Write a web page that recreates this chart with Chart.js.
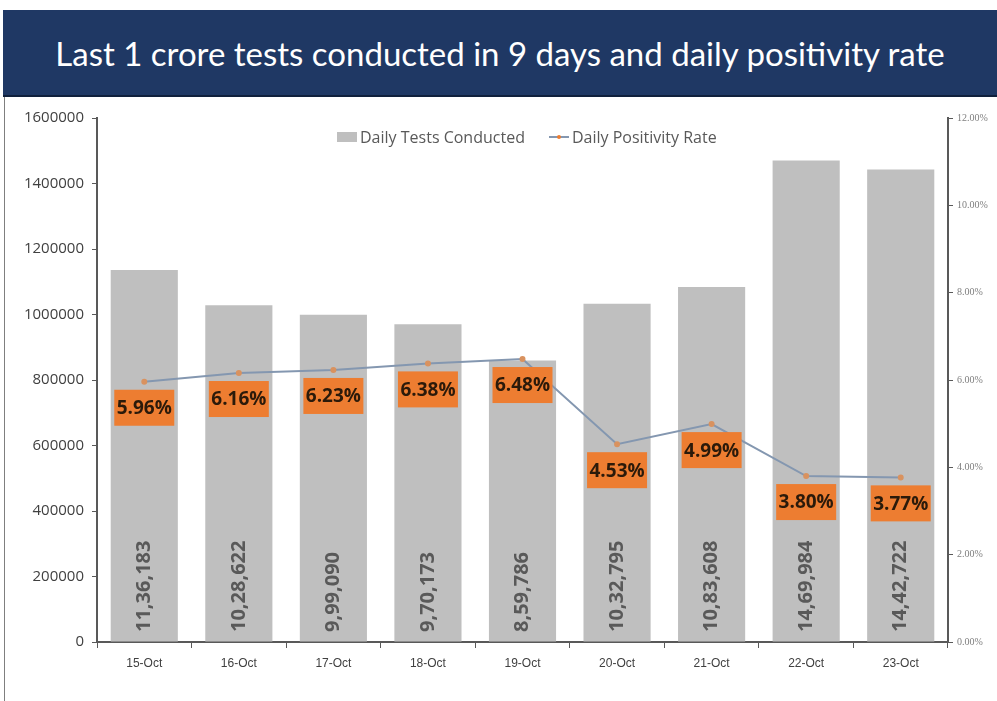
<!DOCTYPE html>
<html>
<head>
<meta charset="utf-8">
<script src="https://cdn.jsdelivr.net/npm/chart.js@4"></script>
<style>
  body { margin: 0; background: #fff; width: 997px; height: 701px; overflow: hidden; position: relative; }
  #title {
    position: absolute; left: 3px; top: 10px; width: 994px; height: 87px;
    background: #1f3864; color: #fff; font-family: "Lato", sans-serif;
    font-size: 33px; line-height: 87px; text-align: center;
    border-bottom: 2px solid #10203c; box-sizing: border-box;
  }
  #edge { position: absolute; left: 4px; top: 97px; width: 1px; height: 604px; background: #7f7f7f; }
  #wrap { position: absolute; left: 0; top: 97px; width: 997px; height: 604px; }
  #legend {
    position: absolute; top: 126px; left: 337px; font-family: "Open Sans", sans-serif;
    font-size: 16px; color: #595959; display: flex; align-items: center; white-space: nowrap;
  }
  .sw { display: inline-block; width: 20px; height: 10px; background: #bfbfbf; margin-right: 3px; }
  .ln { display: inline-block; width: 20px; height: 2px; background: #8497b0; margin: 0 3px 0 24px; position: relative; }
  .ln:after { content: ""; position: absolute; left: 8px; top: -1px; width: 4px; height: 4px; border-radius: 50%; background: #ed7d31; }
</style>
</head>
<body>
<div id="title">Last 1 crore tests conducted in 9 days and daily positivity rate</div>
<div id="edge"></div>
<div id="wrap"><canvas id="chart" width="997" height="604"></canvas></div>
<div id="legend"><span class="sw"></span>Daily Tests Conducted<span class="ln"></span>Daily Positivity Rate</div>
<script>
const days = ["15-Oct", "16-Oct", "17-Oct", "18-Oct", "19-Oct", "20-Oct", "21-Oct", "22-Oct", "23-Oct"];
const testsConducted = [1136183, 1028622, 999090, 970173, 859786, 1032795, 1083608, 1469984, 1442722];
const positivityRate = [5.96, 6.16, 6.23, 6.38, 6.48, 4.53, 4.99, 3.80, 3.77];

// indian digit grouping, e.g. 11,36,183
function indian(n) {
  const s = String(n);
  const last3 = s.slice(-3);
  let rest = s.slice(0, -3);
  if (!rest) return last3;
  rest = rest.replace(/\B(?=(\d{2})+(?!\d))/g, ",");
  return rest + "," + last3;
}

const labelPlugin = {
  id: 'labels',
  afterDatasetsDraw(chart) {
    const ctx = chart.ctx;
    const bars = chart.getDatasetMeta(0).data;
    ctx.save();
    ctx.font = 'bold 20px "Open Sans"';
    ctx.fillStyle = '#595959';
    ctx.textBaseline = 'middle';
    ctx.textAlign = 'left';
    bars.forEach((b, i) => {
      ctx.save();
      ctx.translate(b.x, chart.chartArea.bottom - 10);
      ctx.rotate(-Math.PI / 2);
      ctx.fillText(indian(testsConducted[i]), 0, 0);
      ctx.restore();
    });
    const pts = chart.getDatasetMeta(1).data;
    ctx.font = 'bold 19px "Open Sans"';
    ctx.textAlign = 'center';
    pts.forEach((p, i) => {
      const cy = p.y + 26;
      ctx.fillStyle = '#ed7d31';
      ctx.fillRect(p.x - 30, cy - 18, 60, 36);
      ctx.fillStyle = '#2b1a0a';
      ctx.fillText(positivityRate[i].toFixed(2) + '%', p.x, cy + 1);
    });
    ctx.restore();
  }
};

new Chart(document.getElementById('chart'), {
  data: {
    labels: days,
    datasets: [{
      type: 'bar',
      label: 'Daily Tests Conducted',
      data: testsConducted,
      backgroundColor: '#bfbfbf',
      categoryPercentage: 1,
      barPercentage: 0.71,
      yAxisID: 'y',
      order: 2
    }, {
      type: 'line',
      label: 'Daily Positivity Rate',
      data: positivityRate,
      borderColor: '#8497b0',
      borderWidth: 2,
      pointRadius: 2,
      pointBackgroundColor: '#d9925f',
      pointBorderColor: '#d9925f',
      tension: 0,
      yAxisID: 'y1',
      order: 1
    }]
  },
  options: {
    responsive: false,
    animation: false,
    layout: { padding: { top: 21 } },
    plugins: { legend: { display: false }, tooltip: { enabled: false } },
    scales: {
      x: {
        grid: { display: true, drawOnChartArea: false, drawTicks: true, tickLength: 6, color: '#595959', offset: true },
        border: { display: true, color: '#595959', width: 2 },
        ticks: { color: '#404040', font: { family: 'Liberation Sans Narrow, Liberation Sans', size: 12 }, padding: 8, maxRotation: 0 },
        afterFit(s) { s.height = 59; }
      },
      y: {
        position: 'left',
        min: 0, max: 1600000,
        ticks: { stepSize: 200000, color: '#404040', font: { family: 'Open Sans', size: 15 }, padding: 8,
          callback: v => String(v) },
        grid: { display: true, drawOnChartArea: false, drawTicks: true, tickLength: 5, color: '#595959' },
        border: { display: true, color: '#595959', width: 2 },
        afterFit(s) { s.width = 97; }
      },
      y1: {
        position: 'right',
        min: 0, max: 12,
        ticks: { stepSize: 2, color: '#7f7f7f', font: { family: 'Liberation Serif', size: 10 }, padding: 4,
          callback: v => v.toFixed(2) + '%' },
        grid: { display: true, drawOnChartArea: false, drawTicks: true, tickLength: 5, color: '#595959' },
        border: { display: true, color: '#595959', width: 2 },
        afterFit(s) { s.width = 49; }
      }
    }
  },
  plugins: [labelPlugin]
});
</script>
</body>
</html>
